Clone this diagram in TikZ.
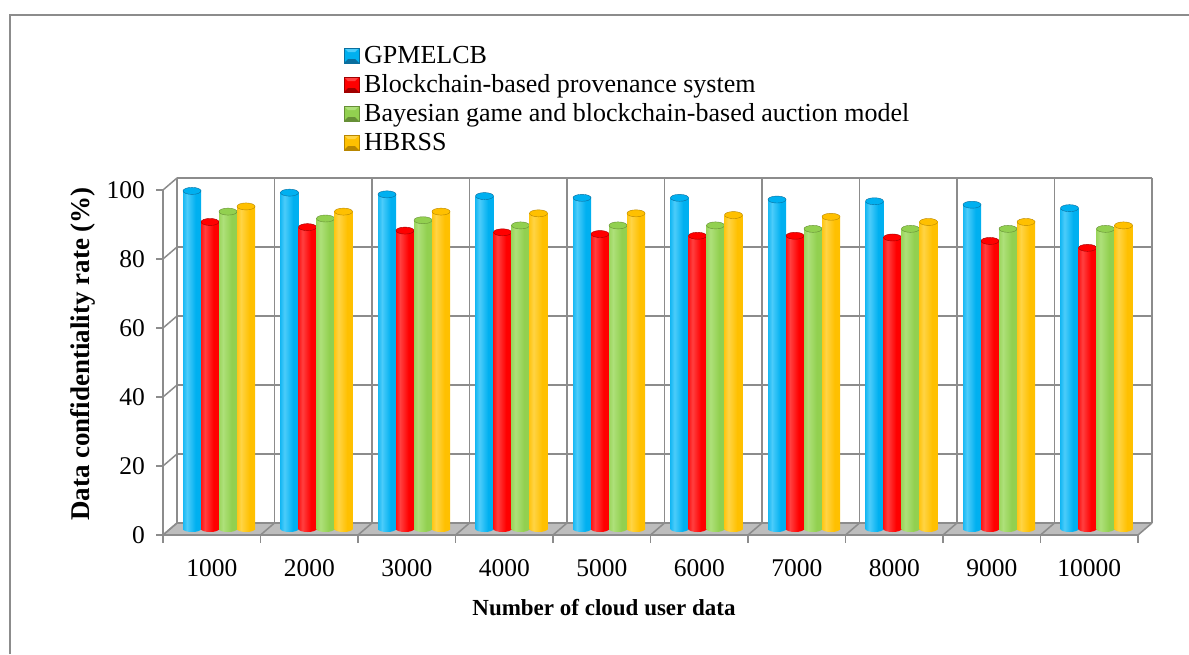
\documentclass[tikz,border=0pt]{standalone}
\usepackage{fontspec}
\setmainfont{Liberation Serif}
% palette
\definecolor{gridgray}{HTML}{8C8C8C}
\definecolor{floorgray}{HTML}{BDBDBD}
\definecolor{bluD}{HTML}{0A6E9E}
\definecolor{bluM}{HTML}{00B0F0}
\definecolor{bluL}{HTML}{4CCCFA}
\definecolor{redD}{HTML}{A00000}
\definecolor{redM}{HTML}{FF0000}
\definecolor{redL}{HTML}{FF4040}
\definecolor{grnD}{HTML}{668F36}
\definecolor{grnM}{HTML}{92D050}
\definecolor{grnL}{HTML}{AEE07A}
\definecolor{ylwD}{HTML}{B88600}
\definecolor{ylwM}{HTML}{FFC000}
\definecolor{ylwL}{HTML}{FFD445}
% cylinder bodies: dark rim, highlight left of centre
\pgfdeclarehorizontalshading{blucyl}{100bp}{color(0bp)=(bluD); color(20bp)=(bluM); color(36bp)=(bluL); color(60bp)=(bluM); color(84bp)=(bluM); color(100bp)=(bluD)}
\pgfdeclarehorizontalshading{redcyl}{100bp}{color(0bp)=(redD); color(20bp)=(redM); color(36bp)=(redL); color(60bp)=(redM); color(84bp)=(redM); color(100bp)=(redD)}
\pgfdeclarehorizontalshading{grncyl}{100bp}{color(0bp)=(grnD); color(20bp)=(grnM); color(36bp)=(grnL); color(60bp)=(grnM); color(84bp)=(grnM); color(100bp)=(grnD)}
\pgfdeclarehorizontalshading{ylwcyl}{100bp}{color(0bp)=(ylwD); color(20bp)=(ylwM); color(36bp)=(ylwL); color(60bp)=(ylwM); color(84bp)=(ylwM); color(100bp)=(ylwD)}
\tikzset{
  grid line/.style={draw=gridgray, line width=1.5pt},
  tick label/.style={font=\fontsize{25.5}{28}\selectfont, inner sep=0pt},
  legend label/.style={font=\fontsize{26}{29}\selectfont, inner sep=0pt, anchor=base west},
  axis title/.style={font=\bfseries\fontsize{#1}{#1}\selectfont, inner sep=0pt},
}
\begin{document}
\begin{tikzpicture}[x=1pt,y=-1pt]
\useasboundingbox (0,0) rectangle (1189,654);
\fill[white] (0,0) rectangle (1189,654);
% chart frame (top and left edges)
\draw[gridgray, line width=2pt] (10,654) -- (10,15) -- (1189,15);

% floor of the 3-D plot area
\fill[floorgray] (163,535) -- (1138,535) -- (1152,523) -- (177,523) -- cycle;
% back wall: horizontal grid lines and category dividers
\foreach \v in {0,20,...,100}
  \draw[grid line] (177,{523-3.45*\v}) -- (1152,{523-3.45*\v});
\foreach \k in {0,...,10} {
  \draw[grid line] ({177+97.5*\k},178) -- ({177+97.5*\k},523);
  \draw[grid line] ({163+97.5*\k},535) -- ({177+97.5*\k},523);
  \draw[grid line] ({163+97.5*\k},535) -- ({163+97.5*\k},543);
}
% side wall and value axis
\foreach \v in {0,20,...,100} {
  \draw[grid line] (163,{535-3.45*\v}) -- (177,{523-3.45*\v});
  \draw[grid line] (156,{535-3.45*\v}) -- (163,{535-3.45*\v});
  \node[tick label, anchor=east] (ylab\v) at (145,{535-3.45*\v}) {\v};
}
\draw[grid line] (163,190) -- (163,535);
\draw[grid line] (163,535) -- (1138,535);

% cylinders
\foreach \g/\a/\b/\c/\d [count=\n] in {
  0/98/89/92/93.5, 1/97.5/87.5/90/92, 2/97/86.5/89.5/92, 3/96.5/86/88/91.5,
  4/96/85.5/88/91.5, 5/96/85/88/91, 6/95.5/85/87/90.5, 7/95/84.5/87/89,
  8/94/83.5/87/89, 9/93/81.5/87/88} {
  \foreach \i/\v/\col in {0/\a/blu, 1/\b/red, 2/\c/grn, 3/\d/ylw} {
    \pgfmathsetmacro\xl{183+97.5*\g+18*\i}
    \pgfmathsetmacro\xr{\xl+18}
    \pgfmathsetmacro\xc{\xl+9}
    \pgfmathsetmacro\yt{529-3.45*\v}
    \shade[shading=\col cyl] (\xc,529) ellipse[x radius=9, y radius=3];
    \shade[shading=\col cyl] (\xl,\yt) rectangle (\xr,529);
    \shadedraw[left color=\col M, middle color=\col L, right color=\col M, draw=\col D, line width=0.4pt]
      (\xc,\yt) ellipse[x radius=9, y radius=3.5];
  }
  \pgfmathsetmacro\lab{int(1000*\n)}
  \node[tick label, anchor=base] (xlab\n) at ({211.75+97.5*\g},576) {\lab};
}

% axis titles
\node[axis title=27, rotate=90] (ytitle) at (83,354) {Data confidentiality rate (\%)};
\node[axis title=23, anchor=base] (xtitle) at (604,615) {Number of cloud user data};

% legend
\foreach \col/\y/\t [count=\n] in {
  blu/63/GPMELCB,
  red/92/Blockchain-based provenance system,
  grn/121/Bayesian game and blockchain-based auction model,
  ylw/150/HBRSS} {
  \fill[\col M] (344,\y-15) rectangle (359,\y);
  \fill[\col L] (344,\y-15) -- (359,\y-15) -- (355,\y-11) -- (348,\y-11) -- cycle;
  \fill[\col D] (344,\y) -- (359,\y) -- (355,\y-4) -- (348,\y-4) -- cycle;
  \draw[\col D, line width=0.5pt] (344,\y-15) rectangle (359,\y);
  \node[legend label] (leg\n) at (364,\y) {\t};
}
\end{tikzpicture}
\end{document}
